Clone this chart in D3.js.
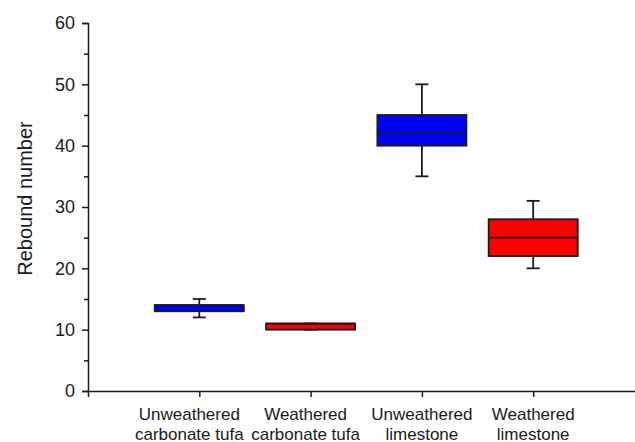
<!DOCTYPE html>
<html>
<head>
<meta charset="utf-8">
<script src="https://cdn.jsdelivr.net/npm/d3@7"></script>
<style>
  body { margin: 0; background: #fff; }
  svg { display: block; font-family: "Liberation Sans", Arial, sans-serif; }
</style>
</head>
<body>
<div id="chart"></div>
<script>
const categories = [
  ["Unweathered", "carbonate tufa"],
  ["Weathered", "carbonate tufa"],
  ["Unweathered", "limestone"],
  ["Weathered", "limestone"],
];
const whiskerLow = [12, 10, 35, 20];
const q1 = [13, 10, 40, 22];
const medians = [14, 11, 42, 25];
const q3 = [14, 11, 45, 28];
const whiskerHigh = [15, 11, 50, 31];
const boxColors = ["#0000ff", "#ff0000", "#0000ff", "#ff0000"];
const yTicks = [0, 10, 20, 30, 40, 50, 60];
const yMinorTicks = [5, 15, 25, 35, 45, 55];

const width = 635;
const height = 442;

const svg = d3.select("#chart")
  .append("svg")
  .attr("width", width)
  .attr("height", height);

const x = d3.scaleLinear().domain([0, 5]).range([88, 644.5]);
const y = d3.scaleLinear().domain([0, 60]).range([391, 23]);

const boxHalf = (x(0.8) - x(0)) / 2;
const capHalf = 6.5;
const ink = "#1a1a1a";

// y axis
const yAxis = svg.append("g")
  .attr("transform", `translate(${x(0)},0)`)
  .call(d3.axisLeft(y).tickValues(yTicks).tickSize(6).tickPadding(7));
yAxis.select(".domain").attr("stroke", ink).attr("stroke-width", 1.5);
yAxis.selectAll(".tick line").attr("stroke", ink).attr("stroke-width", 1.5);
yAxis.selectAll(".tick text")
  .attr("font-size", 18)
  .attr("font-family", "Liberation Sans, Arial, sans-serif")
  .attr("fill", ink);

svg.append("g")
  .attr("transform", `translate(${x(0)},0)`)
  .call(d3.axisLeft(y).tickValues(yMinorTicks).tickSize(4).tickFormat(""))
  .call((g) => g.select(".domain").remove())
  .selectAll(".tick line").attr("stroke", ink).attr("stroke-width", 1.5);

// x axis
const xAxis = svg.append("g")
  .attr("transform", `translate(0,${y(0)})`)
  .call(d3.axisBottom(x).tickValues([0, 1, 2, 3, 4, 5]).tickSize(6).tickSizeOuter(0).tickFormat(""));
xAxis.select(".domain").attr("stroke", ink).attr("stroke-width", 1.5);
xAxis.selectAll(".tick line").attr("stroke", ink).attr("stroke-width", 1.5);

// category labels (the first two are nudged left so they don't collide)
const nudge = [-10, -5, 0, 0];
const labels = svg.append("g")
  .attr("font-size", 17)
  .attr("fill", ink)
  .attr("text-anchor", "middle");
categories.forEach((lines, i) => {
  const cx = x(i + 1) + nudge[i];
  const t = labels.append("text").attr("x", cx).attr("y", 419.5);
  lines.forEach((line, j) => {
    t.append("tspan").attr("x", cx).attr("dy", j === 0 ? 0 : 20).text(line);
  });
});

// y label
svg.append("text")
  .attr("transform", `translate(31.5,${(y(60) + y(0)) / 2 - 8.5}) rotate(-90)`)
  .attr("text-anchor", "middle")
  .attr("font-size", 20)
  .attr("fill", ink)
  .text("Rebound number");

// boxes
const boxes = svg.append("g")
  .selectAll("g")
  .data(categories.map((c, i) => i))
  .join("g");

boxes.append("line")
  .attr("x1", (i) => x(i + 1)).attr("x2", (i) => x(i + 1))
  .attr("y1", (i) => y(whiskerLow[i])).attr("y2", (i) => y(whiskerHigh[i]))
  .attr("stroke", ink).attr("stroke-width", 1.8);

boxes.append("line")
  .attr("x1", (i) => x(i + 1) - capHalf).attr("x2", (i) => x(i + 1) + capHalf)
  .attr("y1", (i) => y(whiskerLow[i])).attr("y2", (i) => y(whiskerLow[i]))
  .attr("stroke", ink).attr("stroke-width", 1.8);

boxes.append("line")
  .attr("x1", (i) => x(i + 1) - capHalf).attr("x2", (i) => x(i + 1) + capHalf)
  .attr("y1", (i) => y(whiskerHigh[i])).attr("y2", (i) => y(whiskerHigh[i]))
  .attr("stroke", ink).attr("stroke-width", 1.8);

boxes.append("rect")
  .attr("x", (i) => x(i + 1) - boxHalf)
  .attr("width", boxHalf * 2)
  .attr("y", (i) => y(q3[i]))
  .attr("height", (i) => y(q1[i]) - y(q3[i]))
  .attr("fill", (i) => boxColors[i])
  .attr("stroke", ink)
  .attr("stroke-width", 1.8);

boxes.append("line")
  .attr("x1", (i) => x(i + 1) - boxHalf).attr("x2", (i) => x(i + 1) + boxHalf)
  .attr("y1", (i) => y(medians[i])).attr("y2", (i) => y(medians[i]))
  .attr("stroke", ink).attr("stroke-width", 1.8);
</script>
</body>
</html>
